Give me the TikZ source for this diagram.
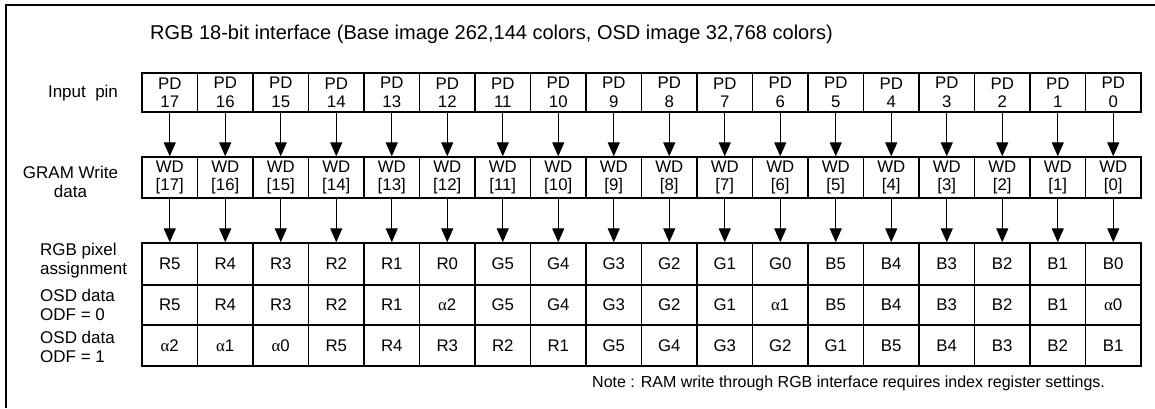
\documentclass[tikz,border=0pt]{standalone}
\usepackage{fontspec}
\setmainfont{Liberation Sans}
\newfontfamily\grkfont{Liberation Serif}
\usetikzlibrary{arrows.meta}
\newcommand\alp[1]{{\grkfont α}#1}
\begin{document}
\begin{tikzpicture}[x=1pt,y=-1pt,
  cell/.style={draw, line width=1.4pt, minimum width=55.5pt, inner sep=0pt, align=center,
    font=\fontsize{16.8}{18.5}\selectfont},
  lbl/.style={inner sep=0pt, font=\fontsize{17}{19}\selectfont},
  arr/.style={line width=1.3pt, -{Triangle[length=14pt,width=12pt]}}]
\useasboundingbox (0,0) rectangle (1155,408);
\draw[line width=2.6pt] (6,408) -- (6,5) -- (1155,5);
\node[inner sep=0pt, anchor=west, font=\fontsize{20}{24}\selectfont] (title) at (150,34) {RGB 18-bit interface (Base image 262,144 colors, OSD image 32,768 colors)};
\node[lbl] (lin) at (83,93) {Input\ \ pin};
\node[lbl, align=center] (lgram) at (70.5,182) {GRAM Write\\data};
\node[lbl, align=left, anchor=west] (lrgb) at (40,261) {RGB pixel\\assignment};
\node[lbl, align=left, anchor=west] (lo0) at (40,305) {OSD data\\ODF = 0};
\node[lbl, align=left, anchor=west] (lo1) at (40,347) {OSD data\\ODF = 1};
\foreach \n [count=\i from 0] in {17,16,15,14,13,12,11,10,9,8,7,6,5,4,3,2,1,0} {
  \node[cell, minimum height=39pt] (pd\i) at (169.75+55.5*\i, 92.5) {PD\\\n};
  \node[cell, minimum height=41pt] (wd\i) at (169.75+55.5*\i, 177.5) {WD\\{[}\n{]}};
}
\foreach \t [count=\i from 0] in {R5,R4,R3,R2,R1,R0,G5,G4,G3,G2,G1,G0,B5,B4,B3,B2,B1,B0} {
  \node[cell, minimum height=42pt] (rg\i) at (169.75+55.5*\i, 264) {\t};
}
\foreach \t [count=\i from 0] in {R5,R4,R3,R2,R1,\alp2,G5,G4,G3,G2,G1,\alp1,B5,B4,B3,B2,B1,\alp0} {
  \node[cell, minimum height=40pt] (oa\i) at (169.75+55.5*\i, 305) {\t};
}
\foreach \t [count=\i from 0] in {\alp2,\alp1,\alp0,R5,R4,R3,R2,R1,G5,G4,G3,G2,G1,B5,B4,B3,B2,B1} {
  \node[cell, minimum height=41pt] (ob\i) at (169.75+55.5*\i, 345.5) {\t};
}
\foreach \i in {0,...,17} {
  \draw[arr] (pd\i.south) -- (wd\i.north);
  \draw[arr] (wd\i.south) -- (rg\i.north);
}
\node[inner sep=0pt, anchor=west, font=\fontsize{16}{18}\selectfont] (note) at (592,383) {Note : RAM write through RGB interface requires index register settings.};
\end{tikzpicture}
\end{document}
